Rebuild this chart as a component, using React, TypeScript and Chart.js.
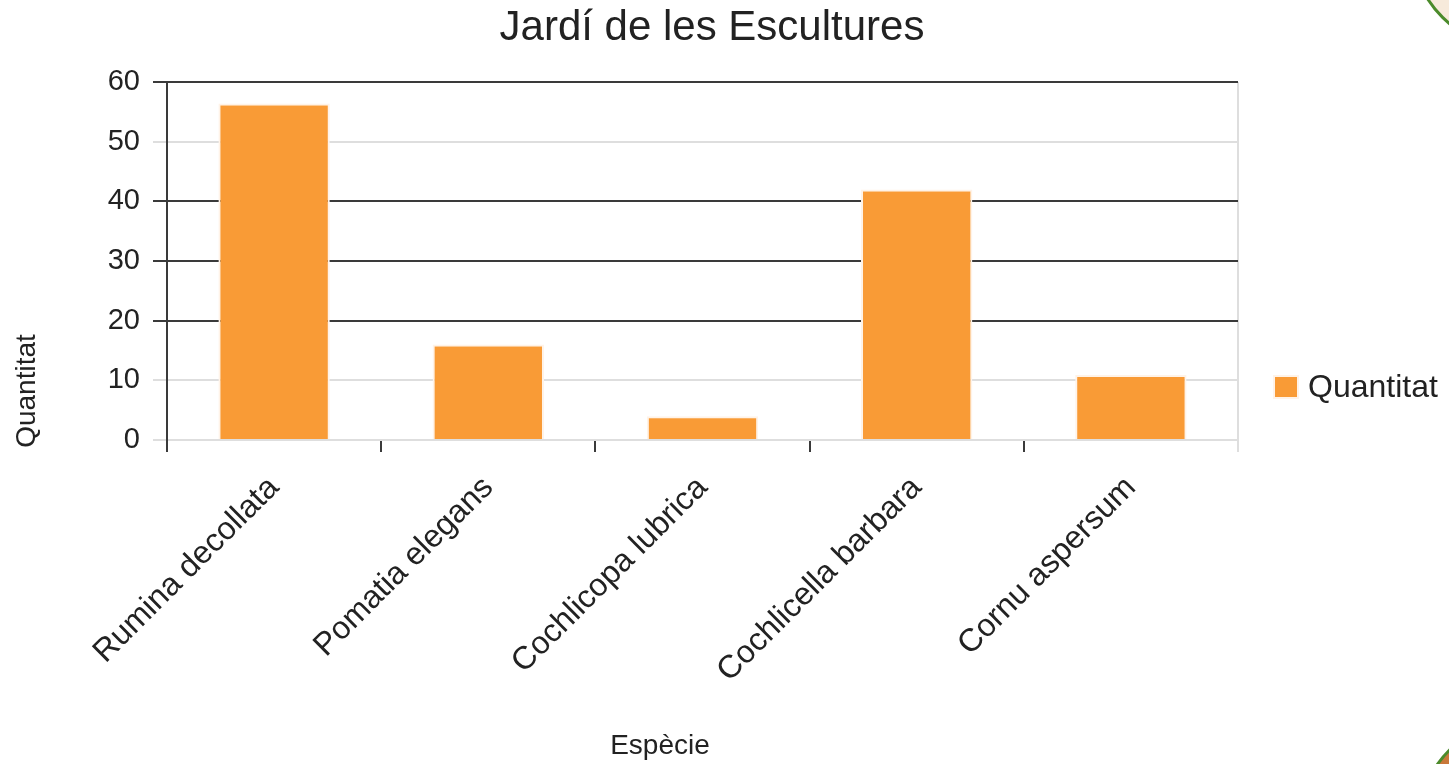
import React, { useEffect, useRef } from "react";
import { Chart, registerables } from "chart.js";

Chart.register(...registerables);

// ---- data ----
const chartTitle = "Jardí de les Escultures";
const categories = [
  "Rumina decollata",
  "Pomatia elegans",
  "Cochlicopa lubrica",
  "Cochlicella barbara",
  "Cornu aspersum",
];
const quantities = [56.4, 16, 4, 42, 10.9];
const seriesName = "Quantitat";
const xAxisTitle = "Espècie";
const yAxisTitle = "Quantitat";
const yTicks = [0, 10, 20, 30, 40, 50, 60];
const darkGridValues = [20, 30, 40, 60];

// ---- styles ----
const FONT = "'Liberation Sans', Arial, sans-serif";
const TEXT = "#222222";
const DARK = "#3a3a3a";
const LIGHT = "#dedede";
const BAR = "#f99b36";
const BAR_BORDER = "#fff3e8";

const overlayPlugin = {
  id: "overlayTexts",
  afterDraw(chart: any) {
    const { ctx, chartArea } = chart;
    ctx.save();
    ctx.fillStyle = TEXT;
    ctx.textAlign = "center";
    ctx.textBaseline = "middle";
    ctx.font = `28px ${FONT}`;
    // y axis title
    ctx.save();
    ctx.translate(chartArea.left - 140, chartArea.bottom - 49);
    ctx.rotate(-Math.PI / 2);
    ctx.fillText(yAxisTitle, 0, 0);
    ctx.restore();
    // x axis title
    ctx.fillText(xAxisTitle, chartArea.left + 493, chartArea.bottom + 306);
    // legend
    const lx = chartArea.right + 37;
    const ly = chartArea.bottom - 53;
    ctx.fillStyle = BAR;
    ctx.fillRect(lx, ly - 10, 22, 20);
    ctx.strokeStyle = BAR_BORDER;
    ctx.lineWidth = 2;
    ctx.strokeRect(lx - 1, ly - 11, 24, 22);
    ctx.fillStyle = TEXT;
    ctx.textAlign = "left";
    ctx.font = `32px ${FONT}`;
    ctx.fillText(seriesName, lx + 33, ly + 1);
    ctx.restore();
  },
};

export default function App() {
  const canvasRef = useRef<HTMLCanvasElement | null>(null);

  useEffect(() => {
    document.body.style.margin = "0";
    const canvas = canvasRef.current;
    if (!canvas) return;
    const chart = new Chart(canvas, {
      type: "bar",
      data: {
        labels: categories,
        datasets: [
          {
            label: seriesName,
            data: quantities,
            backgroundColor: BAR,
            borderColor: BAR_BORDER,
            borderWidth: 2,
            barPercentage: 0.52,
            categoryPercentage: 1,
            yAxisID: "y",
          },
        ],
      },
      options: {
        responsive: false,
        animation: false,
        devicePixelRatio: 1,
        layout: { padding: { left: 0, right: 25, top: 0, bottom: 0 } },
        plugins: {
          legend: { display: false },
          tooltip: { enabled: false },
          title: {
            display: true,
            text: chartTitle,
            color: TEXT,
            font: { family: FONT, size: 42, weight: "normal" },
            padding: { top: 3, bottom: 28.6 },
          },
        },
        scales: {
          x: {
            grid: {
              offset: true,
              drawOnChartArea: true,
              color: (c: any) => (c.type === "scale" ? LIGHT : "rgba(0,0,0,0)"),
              tickColor: (c: any) => (c.type === "scale" ? LIGHT : DARK),
              tickLength: 12,
              lineWidth: 2,
            },
            border: { color: LIGHT, width: 2 },
            ticks: {
              color: TEXT,
              font: { family: FONT, size: 32 },
              minRotation: 45,
              maxRotation: 45,
              autoSkip: false,
              padding: 17,
            },
            afterFit: (s: any) => {
              s.height = 324;
            },
          },
          y: {
            min: yTicks[0],
            max: yTicks[yTicks.length - 1],
            afterBuildTicks: (s: any) => {
              s.ticks = yTicks.map((v) => ({ value: v }));
            },
            grid: {
              color: (c: any) =>
                c.tick && darkGridValues.includes(c.tick.value) ? DARK : LIGHT,
              tickLength: 14,
              lineWidth: 2,
            },
            border: { color: DARK, width: 2 },
            ticks: {
              color: TEXT,
              font: { family: FONT, size: 29 },
              padding: 13,
            },
            afterFit: (s: any) => {
              s.width = 167;
            },
          },
          legendSpace: {
            type: "linear",
            position: "right",
            display: true,
            grid: { display: false, drawOnChartArea: false },
            border: { display: false },
            ticks: { display: false },
            afterFit: (s: any) => {
              s.width = 186;
            },
          },
        },
      },
      plugins: [overlayPlugin],
    });
    return () => chart.destroy();
  }, []);

  return (
    <div
      style={{
        position: "fixed",
        left: 0,
        top: 0,
        width: 1449,
        height: 764,
        overflow: "hidden",
        background: "#ffffff",
      }}
    >
      <canvas
        ref={canvasRef}
        width={1449}
        height={764}
        style={{ position: "absolute", left: 0, top: 0, width: 1449, height: 764 }}
      />
      <div
        style={{
          position: "absolute",
          left: 1409,
          top: -171,
          width: 222,
          height: 222,
          borderRadius: "50%",
          border: "3px solid #4b8b2b",
          background: "#f7eadb",
          boxSizing: "border-box",
        }}
      />
      <div
        style={{
          position: "absolute",
          left: 1415,
          top: 715,
          width: 230,
          height: 230,
          borderRadius: "50%",
          border: "3px solid #4b8b2b",
          background: "#c9783a",
          boxSizing: "border-box",
        }}
      />
    </div>
  );
}
